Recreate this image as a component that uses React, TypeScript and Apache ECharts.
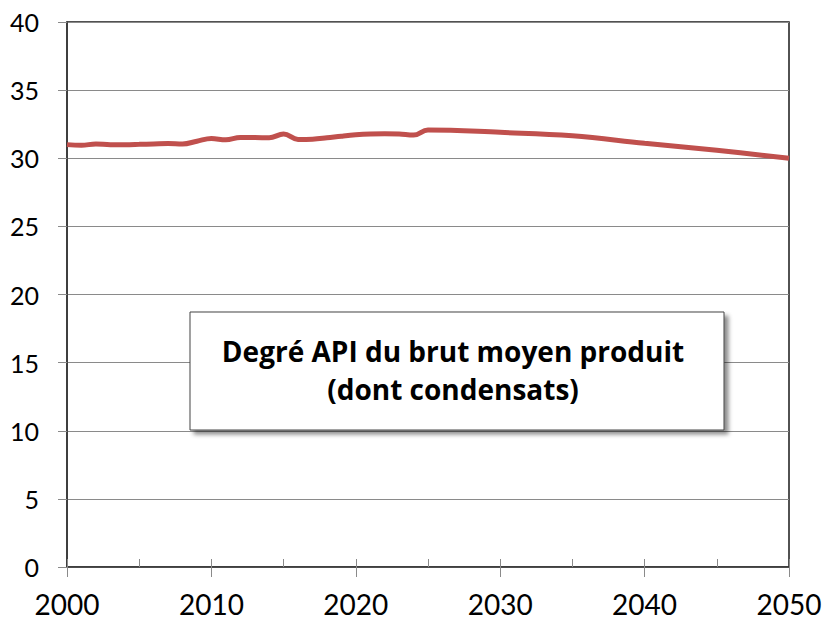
import React, { useEffect, useRef } from "react";
import * as echarts from "echarts";

const years = [2000, 2001, 2002, 2003, 2004, 2005, 2006, 2007, 2008, 2009, 2010, 2011, 2012, 2013, 2014, 2015, 2016, 2017, 2018, 2019, 2020, 2021, 2022, 2023, 2024, 2025, 2030, 2035, 2040, 2045, 2050];
const apiDegree = [31.0, 30.95, 31.05, 31.0, 31.0, 31.02, 31.05, 31.08, 31.05, 31.25, 31.45, 31.35, 31.52, 31.52, 31.5, 31.78, 31.38, 31.4, 31.5, 31.62, 31.72, 31.78, 31.8, 31.78, 31.7, 32.08, 31.9, 31.65, 31.1, 30.58, 30.0];
const titleLines = ["Degré API du brut moyen produit", "(dont condensats)"];

export default function App() {
  const ref = useRef<HTMLDivElement>(null);
  useEffect(() => {
    const chart = echarts.init(ref.current!, null, { renderer: "svg" });
    const data = years.map((y, i) => [y, apiDegree[i]]);
    chart.setOption({
      animation: false,
      backgroundColor: "#ffffff",
      grid: { left: 67, right: 39, top: 22, bottom: 56, show: true, borderColor: "#1a1a1a", borderWidth: 1.5, backgroundColor: "transparent" },
      xAxis: [
        {
          type: "value",
          min: 2000,
          max: 2050,
          interval: 10,
          axisLine: { show: true, lineStyle: { color: "#3a3a3a", width: 1.5 } },
          axisTick: { show: true, inside: false, length: 10, lineStyle: { color: "#8a8a8a" } },
          axisLabel: { fontFamily: "Lato", fontSize: 28, color: "#000", margin: 23, formatter: (v: number) => String(v) },
          splitLine: { show: false },
        },
        {
          type: "value",
          position: "bottom",
          min: 2000,
          max: 2050,
          interval: 5,
          axisLine: { show: false },
          axisTick: { show: true, inside: true, length: 8, lineStyle: { color: "#8a8a8a" } },
          axisLabel: { show: false },
          splitLine: { show: false },
        },
      ],
      yAxis: {
        type: "value",
        min: 0,
        max: 40,
        interval: 5,
        axisLine: { show: true, lineStyle: { color: "#3a3a3a", width: 1.5 } },
        axisTick: { show: true, inside: false, length: 9, lineStyle: { color: "#8a8a8a" } },
        axisLabel: { fontFamily: "Lato", fontSize: 25, color: "#000", margin: 28 },
        splitLine: { show: true, lineStyle: { color: "#8a8a8a", width: 1 } },
      },
      series: [
        {
          type: "line",
          xAxisIndex: 0,
          data,
          smooth: 0.4,
          showSymbol: false,
          lineStyle: { color: "#C0504D", width: 5 },
        },
      ],
      graphic: [
        {
          type: "rect",
          shape: { x: 190, y: 312, width: 534, height: 118 },
          style: {
            fill: "#ffffff",
            stroke: "#444",
            lineWidth: 1,
            shadowBlur: 4,
            shadowOffsetX: 4,
            shadowOffsetY: 4,
            shadowColor: "rgba(0,0,0,0.45)",
          },
          z: 10,
        },
        {
          type: "text",
          x: 453,
          y: 351,
          style: { text: titleLines[0], fontFamily: "Open Sans", fontWeight: "bold", fontSize: 28, fill: "#000", align: "center", verticalAlign: "middle" },
          z: 11,
        },
        {
          type: "text",
          x: 453,
          y: 389,
          style: { text: titleLines[1], fontFamily: "Open Sans", fontWeight: "bold", fontSize: 28, fill: "#000", align: "center", verticalAlign: "middle" },
          z: 11,
        },
      ],
    });
    return () => chart.dispose();
  }, []);
  return <div ref={ref} style={{ position: "fixed", left: 0, top: 0, width: 828, height: 623 }} />;
}
